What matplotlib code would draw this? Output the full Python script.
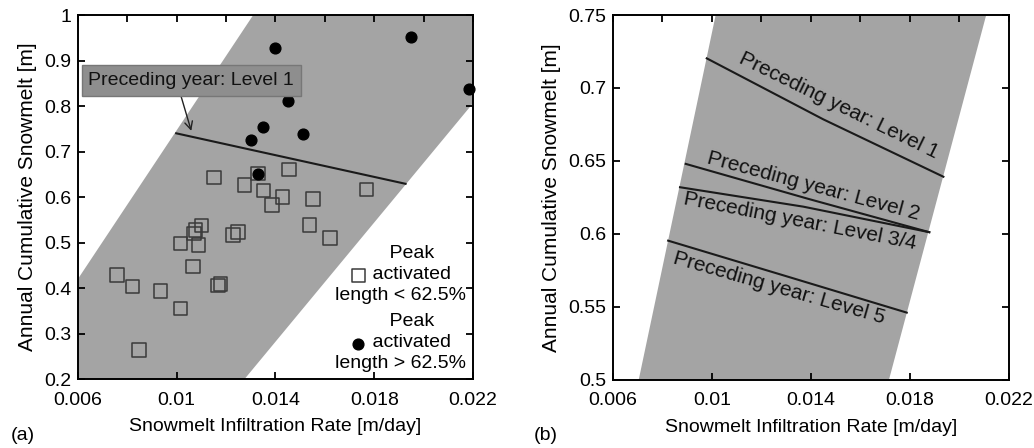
#!/usr/bin/env python3
"""Snowmelt infiltration rate vs annual cumulative snowmelt, two panels."""

import matplotlib

matplotlib.use("Agg")
import matplotlib.pyplot as plt
from matplotlib.ticker import MultipleLocator, FixedLocator

plt.rcParams["font.family"] = ["Liberation Sans", "DejaVu Sans"]

# panel (a): shaded envelope (polygon vertices)
band_a_x = [0.006, 0.006, 0.0131, 0.022, 0.022, 0.01275]
band_a_y = [0.2, 0.42, 1.0, 1.0, 0.806, 0.2]

# panel (a): threshold line for preceding year level 1
level1_a_x = [0.00998, 0.01927]
level1_a_y = [0.740, 0.629]

# panel (a): years with peak activated length < 62.5 %
low_x = [0.00759, 0.0082, 0.00847, 0.00935, 0.01016, 0.01016, 0.01066, 0.01070,
         0.01077, 0.01089, 0.0110, 0.01151, 0.01167, 0.01178, 0.01228, 0.01248,
         0.01275, 0.0133, 0.01352, 0.01387, 0.01429, 0.01455, 0.01538, 0.01552,
         0.01622, 0.01768]
low_y = [0.428, 0.403, 0.264, 0.393, 0.498, 0.355, 0.447, 0.520,
         0.528, 0.495, 0.537, 0.643, 0.406, 0.409, 0.516, 0.523,
         0.626, 0.652, 0.614, 0.582, 0.600, 0.660, 0.538, 0.596,
         0.510, 0.617]

# panel (a): years with peak activated length > 62.5 %
high_x = [0.01302, 0.01329, 0.01349, 0.01397, 0.01451, 0.01511, 0.0195, 0.02182]
high_y = [0.7255, 0.650, 0.753, 0.927, 0.810, 0.7387, 0.952, 0.8375]

# panel (b): shaded envelope
band_b_x = [0.00704, 0.01015, 0.02108, 0.01715]
band_b_y = [0.5, 0.75, 0.75, 0.5]

# panel (b): threshold curves per preceding-year level
levels_b = {
    "Preceding year: Level 1": ([0.00979, 0.0145, 0.01935], [0.7203, 0.6785, 0.6392]),
    "Preceding year: Level 2": ([0.00894, 0.0139, 0.01878], [0.648, 0.624, 0.6012]),
    "Preceding year: Level 3/4": ([0.00871, 0.01369, 0.01878], [0.632, 0.6187, 0.6012]),
    "Preceding year: Level 5": ([0.00823, 0.01305, 0.01787], [0.5954, 0.5708, 0.5461]),
}
# label placement (x, y, rotation) for each curve
label_pos_b = {
    "Preceding year: Level 1": (0.01513, 0.6877, -26),
    "Preceding year: Level 2": (0.01409, 0.633, -15),
    "Preceding year: Level 3/4": (0.01356, 0.609, -11),
    "Preceding year: Level 5": (0.01272, 0.5628, -16),
}

x_ticks = [0.006, 0.01, 0.014, 0.018, 0.022]
x_ticklabels = ["0.006", "0.01", "0.014", "0.018", "0.022"]

legend_labels = ["    Peak\n    activated\nlength < 62.5%",
                 "    Peak\n    activated\nlength > 62.5%"]

BAND = "#a4a4a4"
TICK_FS = 14
LABEL_FS = 14


def style_axes(ax, ymin, ymax, ystep, yfmt):
    ax.set_xlim(0.006, 0.022)
    ax.set_ylim(ymin, ymax)
    ax.xaxis.set_major_locator(FixedLocator(x_ticks))
    ax.set_xticklabels(x_ticklabels)
    ax.xaxis.set_minor_locator(MultipleLocator(0.002))
    ax.yaxis.set_major_locator(MultipleLocator(ystep))
    ax.yaxis.set_major_formatter(plt.FuncFormatter(lambda v, _: yfmt(v)))
    ax.tick_params(which="major", direction="in", length=5, width=1.3,
                   top=True, right=True, labelsize=TICK_FS, pad=5)
    ax.tick_params(axis="x", which="major", pad=9)
    ax.tick_params(which="minor", direction="in", length=5, width=1.3,
                   bottom=False, top=True, left=False, right=False)
    for sp in ax.spines.values():
        sp.set_linewidth(1.4)
    ax.set_xlabel("Snowmelt Infiltration Rate [m/day]", fontsize=LABEL_FS, labelpad=7)
    ax.set_ylabel("Annual Cumulative Snowmelt [m]", fontsize=15, labelpad=5)


def fmt_a(v):
    return "1" if abs(v - 1) < 1e-9 else f"{v:.1f}"


def fmt_b(v):
    s = f"{v:.2f}"
    return s[:-1] if s.endswith("0") else s


fig = plt.figure(figsize=(10.34, 4.48), dpi=100)
ax_a = fig.add_axes([0.0754, 0.154, 0.382, 0.8125])
ax_b = fig.add_axes([0.5928, 0.152, 0.383, 0.8145])

# ---- panel (a)
ax_a.fill(band_a_x, band_a_y, color=BAND, lw=0, zorder=0)
ax_a.plot(level1_a_x, level1_a_y, color="#1a1a1a", lw=1.5, zorder=2)
sq = ax_a.scatter(low_x, low_y, marker="s", s=95, facecolors="none",
                  edgecolors="#3a3a3a", linewidths=1.1, zorder=3)
ci = ax_a.scatter(high_x, high_y, marker="o", s=60, color="black",
                  zorder=4, clip_on=False)
ax_a.annotate("Preceding year: Level 1", xy=(0.01059, 0.7453), xytext=(0.01059, 0.856),
              fontsize=14, ha="center", va="center", color="#111111",
              bbox=dict(boxstyle="square,pad=0.35", fc="#8e8e8e", ec="#777777", lw=1),
              arrowprops=dict(arrowstyle="->", color="#222222", lw=1.0,
                              relpos=(0.44, 0.0), shrinkA=0, shrinkB=0),
              zorder=5)
leg = ax_a.legend([sq, ci], legend_labels,
                  loc="lower right", frameon=False, fontsize=14, handlelength=1.0,
                  handletextpad=-1.7, labelspacing=0.5, borderpad=0.2,
                  borderaxespad=0.15, scatterpoints=1)
for t in leg.get_texts():
    t.set_multialignment("center")
    t.set_linespacing(1.3)
style_axes(ax_a, 0.2, 1.0, 0.1, fmt_a)

# ---- panel (b)
ax_b.fill(band_b_x, band_b_y, color=BAND, lw=0, zorder=0)
for name, (lx, ly) in levels_b.items():
    ax_b.plot(lx, ly, color="#1a1a1a", lw=1.5, zorder=2)
    tx, ty, rot = label_pos_b[name]
    ax_b.text(tx, ty, name, fontsize=15, rotation=rot, rotation_mode="anchor",
              ha="center", va="center", color="#111111", zorder=3)
style_axes(ax_b, 0.5, 0.75, 0.05, fmt_b)

fig.text(0.010, 0.028, "(a)", fontsize=14, va="center")
fig.text(0.516, 0.028, "(b)", fontsize=14, va="center")

fig.savefig("out.png", dpi=100)
